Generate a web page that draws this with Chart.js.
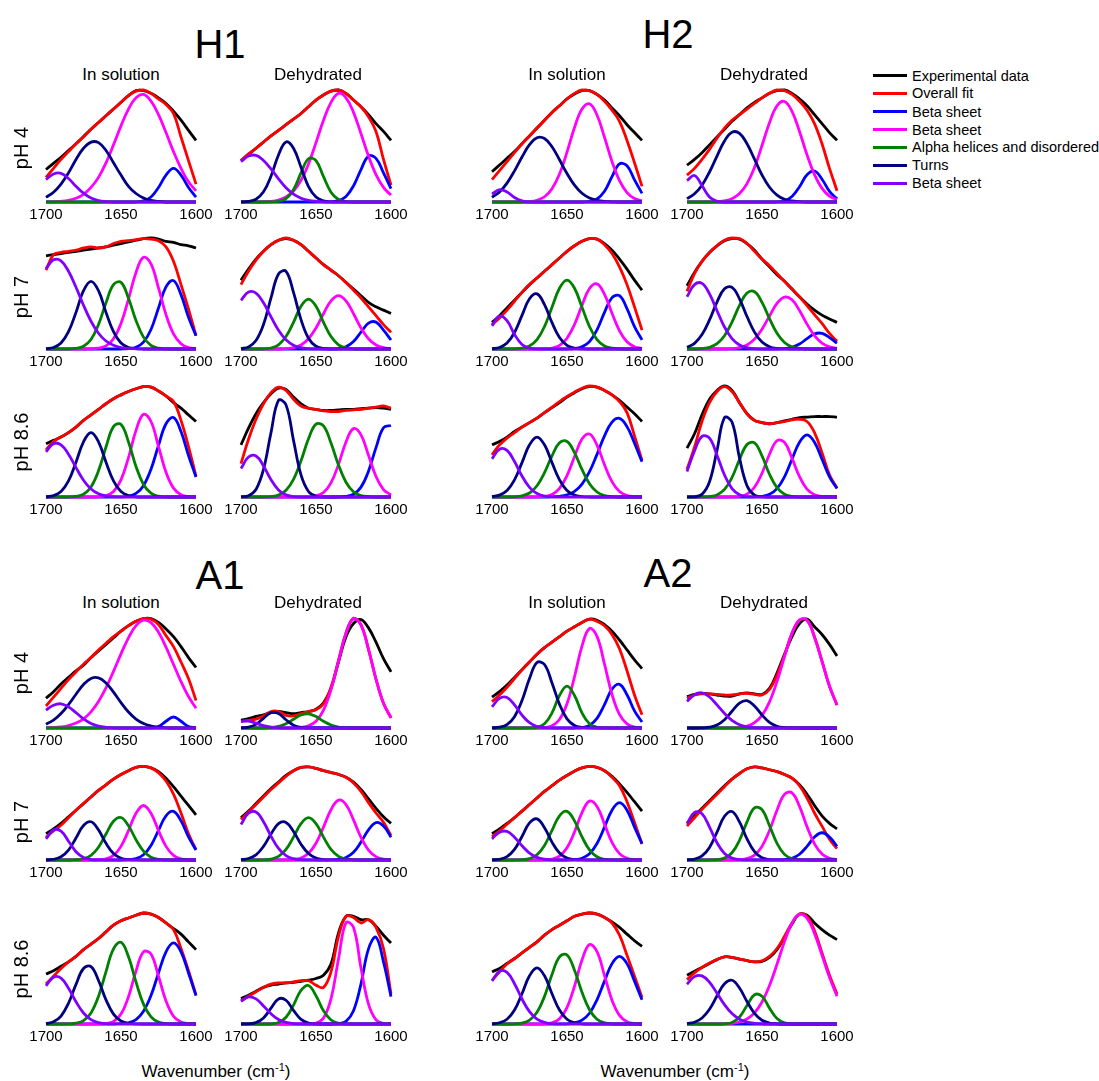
<!DOCTYPE html>
<html><head><meta charset="utf-8">
<script src="https://cdn.jsdelivr.net/npm/chart.js@4.4.1/dist/chart.umd.min.js"></script>
<style>
html,body{margin:0;padding:0;background:#fff;}
#root{position:relative;width:1099px;height:1081px;overflow:hidden;font-family:"Liberation Sans",Arial,sans-serif;color:#000;}
.lbl{position:absolute;white-space:nowrap;transform:translate(-50%,-50%);line-height:1;}
.big{font-size:40px;}
.hdr{font-size:17px;}
.ph{font-size:20px;transform:translate(-50%,-50%) rotate(-90deg);}
.wn{font-size:17px;}
.wn sup{font-size:11px;line-height:0;vertical-align:6px;}
canvas{position:absolute;}
.leg{position:absolute;left:873px;height:18px;display:flex;align-items:center;font-size:14.5px;white-space:nowrap;}
.leg i{display:inline-block;width:34px;height:3px;margin-right:5px;}
</style></head>
<body><div id="root"></div>
<script>
// ---------- data ----------
const wavenumbers = [1700,1695,1690,1685,1680,1675,1670,1665,1660,1655,1650,1645,1640,1635,1630,1625,1620,1615,1610,1605,1600];
const tickValues = [1700,1650,1600];
const seriesNames = ['Experimental data','Overall fit','Beta sheet','Beta sheet','Alpha helices and disordered','Turns','Beta sheet'];
const seriesColors = ['#000000','#ff0000','#0000ff','#ff00ff','#008000','#000080','#8000ff'];
const none = [0,0,0,0,0,0,0,0,0,0,0,0,0,0,0,0,0,0,0,0,0];
// each panel: [experimental, overall fit, beta(blue), beta(magenta), alpha/disordered, turns, beta(violet)]
const H1_sol_pH4 = [
 [29,34.5,40,46,52,58.5,65,71,77,83,89,95,99.5,99.5,97,93,88,81,73,64,55],
 [22,30,38,45,52,58,65,71,77,83,89,95,99,100,97,92,87,79,58,37,16],
 [0,0,0,0,0,0,0,0,0,0,0,0,0.2,1,4.4,13,24,30,24,13,4.4],
 [0,0.2,0.6,1.5,3.4,6.9,13,22,35,51,68,83,93,96,90,78,62,45,30,18,10],
 none,
 [4.2,8.7,16,26,38,48,53.5,53,46,35,24,14,7.6,3.6,1.5,0.5,0,0,0,0,0],
 [20,25,25.6,21,14,7.9,3.5,1.3,0.4,0,0,0,0,0,0,0,0,0,0,0,0]];
const H1_deh_pH4 = [
 [37,42.5,48,53.5,59,64,69,74,79,85,91,95.5,99,100,97,91,85,78,70,63,55],
 [37,43,48,53.5,59,64,69,74,79,85,91,95.5,99,100,97,91,85,76,63,38,15],
 [0,0,0,0,0,0,0,0,0,0,0,0,0.2,1.2,4.9,14.4,29,41,39,26,12],
 [0,0,0,0.2,0.6,1.8,4.4,9.8,19.4,34,53,73,89,97,93,80,61,41,24.5,13,6.2],
 [0,0,0,0,0.1,0.5,3,11,26,38.6,37,22.6,8.8,2.2,0.4,0,0,0,0,0,0],
 [0.1,0.5,2.5,9.1,23,42,53.6,48,31,13.8,4.4,1,0.2,0,0,0,0,0,0,0,0],
 [36,41,41.6,37,29.5,20.7,12.8,7,3.4,1.5,0.6,0.2,0,0,0,0,0,0,0,0,0]];
const H1_sol_pH7 = [
 [84,85,86,87,88,89,90,91,92,93.5,95,96.5,98,99.5,100,99,97,96,94,93,91],
 [71,85,87,88,89,91,92,91,92,95,97,97.6,98.5,99.4,99,97.6,92,79,58,36,12],
 [0,0,0,0,0,0,0,0,0,0,0,0.3,1.5,6.2,17.6,37,56,61.6,49,28.5,12],
 [0,0,0,0,0,0,0.1,0.7,2.8,9.2,23,45,69,82.6,76.6,55,31,13.6,4.7,1.2,0.3],
 [0,0,0,0,0.5,2.5,8.6,22,41.6,58,60,45.7,25.7,10.7,3.3,0.7,0.1,0,0,0,0],
 [0.3,1.4,5.4,15.6,33,52.5,61,52.5,33,15.6,5.4,1.4,0.3,0,0,0,0,0,0,0,0],
 [72.6,80.3,79.4,70,55.6,39.4,25,14.2,7.2,3.3,1.3,0.5,0.2,0,0,0,0,0,0,0,0]];
const H1_deh_pH7 = [
 [62,72,81,88,94,98,99.5,98,94,88,82,76,71,66,60,54,48,42,38,35,32],
 [58,70,80,88,94,98,100,98,94,88,82,76,71,66,60,53,46,38,30,22,15],
 [0,0,0,0,0,0,0,0,0,0,0,0,0,0.4,2,6.7,15.2,23.3,24.2,17,8.1],
 [0,0,0,0,0,0,0.3,1.2,3.6,9.2,19,31.8,43.3,48,43.3,31.8,19,9.2,3.6,1.2,0.3],
 [0,0,0,0,0.9,3.8,11.2,24,38.6,45,38.6,24,11.2,3.8,0.9,0.2,0,0,0,0,0],
 [0.3,1.8,7.6,22,46,67.6,70,51,26.5,9.7,2.5,0.5,0,0,0,0,0,0,0,0,0],
 [43.9,51.3,50.4,41.6,28.9,16.9,8.3,3.4,1.2,0.3,0.1,0,0,0,0,0,0,0,0,0,0]];
const H1_sol_pH86 = [
 [48,51,54,58,63,69,74,79,84,88.5,92,95,97.5,99.5,99,95.5,91,85,80,74,68],
 [42.5,50,54,58,63,69,74,79,84,88.5,92,95,97.5,99.5,99,95.5,91,86,69,45.5,18.6],
 [0,0,0,0,0,0,0,0,0,0,0.1,0.8,3.2,10.2,25,46.5,66,71.6,59,37.4,18],
 [0,0,0,0,0,0,0,0.2,1.2,4.9,15.4,35.5,60,74.5,68,45.5,22.3,8,2.1,0.4,0.1],
 [0,0,0,0,0.5,2.5,9,23.6,45,63.4,65.4,49.6,27.5,11.3,3.4,0.7,0.1,0,0,0,0],
 [0.2,1.2,4.9,14.5,31.3,49.7,58,49.7,31.3,14.5,4.9,1.2,0.2,0,0,0,0,0,0,0,0],
 [40.7,48.1,47,38.5,26.5,15.1,7.2,2.9,1,0.3,0,0,0,0,0,0,0,0,0,0,0]];
const H1_deh_pH86 = [
 [47,62,75,85,93,98,97,90,84,80,79,78,78,78.5,79,79,79.5,80,80.5,80,79],
 [30,52,70,84,94,99,96,88,82,80,79,77.5,77,77,78,78.5,79,80,81,82,80],
 [0,0,0,0,0,0,0,0,0,0,0,0,0,0.1,0.5,2.5,8.9,23.3,44.5,62.4,64.4],
 [0,0,0,0,0,0,0,0,0,0.2,1,4.1,12.8,29.3,49.6,61.6,56,37.6,18.5,6.7,1.8],
 [0,0,0,0,0.4,1.7,6,15.8,32.6,52.4,65.7,64,48.6,28.8,13.3,4.7,1.3,0.3,0,0,0],
 [0.1,1.2,6.8,24.8,58,87,83,51,19.9,5,0.8,0.1,0,0,0,0,0,0,0,0,0],
 [25.6,36,37,28,15.6,6.4,1.9,0.4,0,0,0,0,0,0,0,0,0,0,0,0,0]];
const H2_sol_pH4 = [
 [27,33,39,45,52,59,66,73,80,86,92,96.5,99.5,99.5,96,91,84,77,69,62,55],
 [20,28,36,44,52,59,66,73,80,86,92,97,100,99.5,96,90,82,72,55,35,14],
 [0,0,0,0,0,0,0,0,0,0,0,0,0,0.5,2.7,9.6,22.6,34,32.3,19.8,7.7],
 [0,0,0,0,0.1,0.4,1.6,4.7,11.9,25,44.5,66.5,83,87.7,77.7,57.8,36.2,19,8.4,3.1,1],
 none,
 [4.2,9,16.9,27.8,40.2,51.2,57.4,56.7,49.3,37.7,25.4,15,7.8,3.6,1.5,0.5,0.2,0,0,0,0],
 [7,11,9,4,1,0.1,0,0,0,0,0,0,0,0,0,0,0,0,0,0,0]];
const H2_deh_pH4 = [
 [33,38,44,51,58,65,72,78,84,89,93,97,99.5,100,97,92,86,78,70,62,55],
 [24,30,38,47,57,66,73,78,83,88,93,97,100,99.5,96,90,82,70,52,30,10],
 [0,0,0,0,0,0,0,0,0,0,0,0,0.2,1.1,4.9,13.6,24.3,27.7,20.3,9.5,2.8],
 [0,0,0,0,0.3,1,2.9,7.5,16.4,30.8,50.4,70.8,85.9,89.7,80.9,63,42.2,24.5,12.2,5.3,2],
 none,
 [3,7.3,15,26.8,41,54.5,62.3,61.3,52,38.2,24.1,13.2,6.2,2.5,0.9,0.3,0,0,0,0,0],
 [19.2,23.7,14.6,4.5,0.7,0,0,0,0,0,0,0,0,0,0,0,0,0,0,0,0]];
const H2_sol_pH7 = [
 [24,30,37,44,51,58,64,70,76,82,88,93,97,99.5,99,95,89,81,72,62,53],
 [22,28,35,43,51,58,64,70,76,82,88,93,97,99.5,99,94,86,74,58,38,17],
 [0,0,0,0,0,0,0,0,0,0,0,0.4,1.9,6.6,17.3,33,46.3,48,36.3,20.1,8.2],
 [0,0,0,0,0,0,0,0.2,0.9,3.3,9.7,22.1,39.3,54.5,58.7,49.3,32.2,16.4,6.5,2,0.5],
 [0,0,0,0.1,0.7,2.7,8.4,20.2,37.6,54.7,62,54.7,37.6,20.2,8.4,2.7,0.7,0.1,0,0,0],
 [0.3,1.4,5.4,14.9,30.3,45.3,49.7,40,23.7,10.3,3.3,0.8,0.1,0,0,0,0,0,0,0,0],
 [20.8,29.7,25.5,13.1,4.1,0.8,0.1,0,0,0,0,0,0,0,0,0,0,0,0,0,0]];
const H2_deh_pH7 = [
 [57,69,79,87,93,97.5,99.5,99,95,89,81,74,67,61,54,47,40.5,35,30.5,27,24],
 [52,68,79,87,93,98,100,99.5,95,88,81,75,68,61,54,47,39,31,23,14,7],
 [0,0,0,0,0,0,0,0,0,0,0,0,0,0.4,1.5,4.5,9.3,13.6,14.1,10.3,5.3],
 [0,0,0,0,0,0,0.3,1.2,3.6,8.9,17.8,29.7,41,46.8,44.3,34.6,22.4,12,5.3,1.9,0.6],
 [0,0,0.4,1.5,4.8,12,24.3,39.3,50.4,51.6,42,27.3,14.1,5.8,1.9,0.5,0.1,0,0,0,0],
 [1.6,5.1,13,26.2,42.3,54.2,55.5,45.2,29.3,15.2,6.2,2.1,0.5,0.1,0,0,0,0,0,0,0],
 [47,58,59.1,49.7,34.5,19.8,9.4,3.6,1.2,0.3,0,0,0,0,0,0,0,0,0,0,0]];
const H2_sol_pH86 = [
 [47,50,54,59,63,67,71,76,80.5,85,90,94,97.5,99.5,99,96,92,87,81,75,68],
 [38,47,53,58,63,67,71,76,81,86,90.5,94.5,98,100,99,96,92,86,76,55,33],
 [0,0,0,0,0,0,0,0,0.2,0.6,1.9,5,11.6,22.8,38.4,55,67.5,70.8,63.4,48.5,31.7],
 [0,0,0,0,0,0,0.1,0.5,2.3,7.7,19.2,36.3,52.2,56.7,46.7,29.1,13.8,4.9,1.3,0.3,0],
 [0,0,0,0.2,1,3.6,10.1,21.9,37,48.8,50,40,24.8,12,4.5,1.3,0.3,0,0,0,0],
 [0.4,1.7,5.9,15.5,31,47,54,47,31,15.5,5.9,1.7,0.4,0,0,0,0,0,0,0,0],
 [34.4,43.1,42,32,18.9,8.7,3.1,0.9,0.2,0,0,0,0,0,0,0,0,0,0,0,0]];
const H2_deh_pH86 = [
 [44,57,74,88,96,100,96,85,75,69,67,66,67,68.5,70,71.5,72,72.5,72.5,72.5,72],
 [25,45,68,85,95,99.5,95,85,75,69,67,66,67,68,69.5,70,68,58,40,20,8],
 [0,0,0,0,0,0,0,0,0,0,0.6,2.5,7.6,18.2,34,49.4,56,49.4,34,18.2,7.6],
 [0,0,0,0,0,0,0.1,0.6,2.6,8.8,21.4,38.5,50.7,49.2,35,18.3,7,2,0.4,0.1,0],
 [0,0,0.1,0.4,1.9,6.8,17.6,33.7,47.3,48.8,37,20.5,8.4,2.5,0.6,0.1,0,0,0,0,0],
 [0,0.2,2.4,13.7,42,71.5,67.5,35.2,10.2,1.6,0.1,0,0,0,0,0,0,0,0,0,0],
 [23,41.5,54.6,53,37.7,19.8,7.6,2.1,0.4,0.1,0,0,0,0,0,0,0,0,0,0,0]];
const A1_sol_pH4 = [
 [27,33,40,46,52,57,64,70,76,82,88,93,97,99.5,99.5,96,90,83,74,64,55],
 [20,28,36,44,51,58,64,71,77,83,88,93,97,99.5,99,94,84,74,60,45,25],
 [0,0,0,0,0,0,0,0,0,0,0,0,0,0,0.1,1.4,6.1,10,6.1,1.4,0.1],
 [0.2,0.4,1,2.2,4.5,8.4,14.7,24,36.5,51.5,67.4,82,93,98,95.8,87,73.6,57.8,42.2,28.6,18],
 none,
 [3.5,7.1,13.1,21.3,30.7,39.5,45,45.6,41,32.6,23.1,14.5,8.1,4,1.8,0.7,0.2,0,0,0,0],
 [16.2,20.7,22,19.2,13.9,8.3,4.1,1.7,0.6,0.2,0,0,0,0,0,0,0,0,0,0,0]];
const A1_deh_pH4 = [
 [7,8.5,10.5,12,14,15,14,13,14,15,17,23,36,60,83,95,98.5,91,78,63,51],
 [6,7,8,11,15,15,11.5,11,13,15,16.5,22,37,61.5,86.5,99.8,94,71.5,44.5,22.5,9.3],
 none,
 [0,0,0,0,0,0,0,0.1,0.5,1.9,6.1,16.2,34.7,60.7,86.2,99.6,93.6,71.5,44.5,22.5,9.3],
 [0,0,0,0,0.4,1.4,3.9,7.9,11.8,12.9,10.4,6.1,2.7,0.9,0.2,0,0,0,0,0,0],
 [0.1,0.8,3.3,8.8,13.9,13.2,7.5,2.6,0.5,0.1,0,0,0,0,0,0,0,0,0,0,0],
 [6,6.3,4.4,2.1,0.7,0.2,0,0,0,0,0,0,0,0,0,0,0,0,0,0,0]];
const A1_sol_pH7 = [
 [28,33,39,46,53,60,67,74,80,86,91,95,98.5,99.5,98,94,87,78,68,58,48],
 [24,31,37,45,53,60,67,74,80,86,91,95,98.5,99.5,98,93,84,70,50,28,11],
 [0,0,0,0,0,0,0,0,0,0,0,0.3,1.5,5.6,15.5,31.5,47,51.7,41.6,24.6,10.7],
 [0,0,0,0,0,0,0,0.2,1.2,4.9,14.5,31.3,49.7,58,49.7,31.3,14.5,4.9,1.2,0.2,0],
 [0,0,0,0,0.3,1.3,4.9,13.6,27.6,41.2,45.2,36.4,21.6,9.4,3,0.7,0.1,0,0,0,0],
 [0.1,0.8,3.4,10.5,23.4,36.7,40.7,32,17.7,6.9,1.9,0.4,0.1,0,0,0,0,0,0,0,0],
 [22.5,32,30.8,20,8.8,2.6,0.5,0.1,0,0,0,0,0,0,0,0,0,0,0,0,0]];
const A1_deh_pH7 = [
 [45,52,60,68,76,83,90,95,98.5,99,97.5,95,93,91,88,83,75,65,55,46,39],
 [43,51,59,67,75,82,89,95,98.5,99,97.5,95,93,91,88,82,73,61,50,40,26],
 [0,0,0,0,0,0,0,0,0,0,0,0,0.1,0.6,2.6,8.2,19,32,39.8,36.2,24.3],
 [0,0,0,0,0,0,0.1,0.5,2.2,7.1,17.8,35,53.5,63.7,59,42.7,24,10.6,3.6,1,0.2],
 [0,0,0,0.2,0.9,3.8,11.2,24.3,38.6,45,38.6,24.3,11.2,3.8,0.9,0.2,0,0,0,0,0],
 [0.3,1.6,5.5,14.5,27.6,38.8,40,30.4,16.8,6.9,2.1,0.5,0.1,0,0,0,0,0,0,0,0],
 [37.8,49.7,51,40.7,25.3,12.3,4.6,1.4,0.3,0.1,0,0,0,0,0,0,0,0,0,0,0]];
const A1_sol_pH86 = [
 [45,48,52,56,61,67,72,77,83,89,93,95.5,98,100,99,96,91,86,81,74,67],
 [36,43,50,56,61,67,72,77,83,89,93,95.5,98,100,99,96,91,85,68,48,26],
 [0,0,0,0,0,0,0,0,0,0,0.3,1.1,4,11.5,25.6,46,65,73,65,46,25.6],
 [0,0,0,0,0,0,0,0.1,0.4,2.3,9,24.6,47.7,65,63,43,20.8,7,1.7,0.3,0],
 [0,0,0,0.1,0.7,3,10,24.9,47.2,67.7,73.6,60.6,37.8,17.9,6.4,1.7,0.4,0,0,0,0],
 [0.4,2,7.2,18.7,35.7,50,51.7,39.2,21.7,8.9,2.7,0.6,0.1,0,0,0,0,0,0,0,0],
 [34.4,42.2,41.3,32.2,20,9.9,3.9,1.2,0.3,0.1,0,0,0,0,0,0,0,0,0,0,0]];
const A1_deh_pH86 = [
 [23,26,29.5,33,35,36,37,37.5,38.5,39.5,41,44,54,82,97,97,94,94,88,80,73],
 [21,25,29,33,36,37,37,38,39,39,35,33,47,79,97,96,91,94,87,68,27],
 [0,0,0,0,0,0,0,0,0,0,0,0,0,0.3,2.4,12,36.2,67.7,78.2,56,24.7],
 [0,0,0,0,0,0,0,0,0,0.1,0.8,5.4,22.7,58.5,91.3,87,50.4,17.9,3.8,0.5,0],
 [0,0,0,0,0.2,1.4,6.1,17,30.3,34.7,25.4,11.9,3.6,0.7,0.1,0,0,0,0,0,0],
 [0,0.2,1.2,5.4,14.3,22.6,21.4,12.2,4.2,0.9,0.1,0,0,0,0,0,0,0,0,0,0],
 [20.5,24.4,22.6,16.3,9.2,4,1.4,0.4,0.1,0,0,0,0,0,0,0,0,0,0,0,0]];
const A2_sol_pH4 = [
 [28,33,39,46,53,60,67,73,78,83,88,92,96,99,98,94,88,80,71,62,54],
 [24,30,37,45,53,60,67,73,78,83,88,92,96,99,97,93,85,72,52,30,12],
 [0,0,0,0,0,0,0,0,0,0,0,0,0.4,2.4,8.7,21.2,35.3,39.7,30.2,15.6,5.4],
 [0,0,0,0,0,0,0.1,0.4,2.1,7.8,22,46.5,74.5,90.5,83.3,58,30.6,12.3,3.7,0.8,0.2],
 [0,0,0,0,0,0.1,0.6,3.8,13.7,29.5,38,29.5,13.7,3.8,0.6,0.1,0,0,0,0,0],
 [0.1,0.7,3.1,10.3,25,45,59.5,57.7,41,21.5,8.3,2.3,0.5,0.1,0,0,0,0,0,0,0],
 [19.2,27,27.8,21.1,11.7,4.8,1.4,0.3,0,0,0,0,0,0,0,0,0,0,0,0,0]];
const A2_deh_pH4 = [
 [28.5,30.5,31.5,31,30,29,29,31,32,31,30.5,36,50,67,83,95,99,92,85,76,65.5],
 [27,30,31,31,30.5,30,30,31,31.5,30.5,30,35,48,66,86,98,98,83,61,38,21],
 none,
 [0,0,0,0,0,0,0.1,0.5,1.7,4.8,11.5,23.8,42.3,65,86,98.3,98,82.3,60.4,38,20.8],
 none,
 [0,0,0.1,0.7,2.7,7.5,15.2,22.6,24.8,20,11.8,5.1,1.6,0.4,0.1,0,0,0,0,0,0],
 [24.2,30.3,32,28.2,21,13.2,6.9,3,1.1,0.4,0.1,0,0,0,0,0,0,0,0,0,0]];
const A2_sol_pH7 = [
 [28,33,39,45,52,59,66,73,79,85,90,94.5,98,99.5,98.5,95,89,81,72,62,52],
 [25,31,38,45,52,59,66,73,79,85,90,94.5,98,99.5,98.5,95,88,79,62,40,17],
 [0,0,0,0,0,0,0,0,0,0,0,0.4,1.9,6.6,17.5,35,53,61,53,35,17.5],
 [0,0,0,0,0,0,0,0.2,1,4.1,13,29.8,50.5,62.6,57,38.2,18.8,6.8,1.8,0.4,0.1],
 [0,0,0,0,0.3,1.5,5.6,15.5,31.5,47,51.7,41.6,24.6,10.7,3.4,0.8,0.1,0,0,0,0],
 [0.1,0.8,3.6,11.3,25,39.4,43.7,34.3,19,7.4,2.1,0.4,0.1,0,0,0,0,0,0,0,0],
 [22.5,29.6,30.4,24.3,15.1,7.3,2.8,0.8,0.2,0,0,0,0,0,0,0,0,0,0,0,0]];
const A2_deh_pH7 = [
 [39,47,55,63,71,79,86,92,97,99,98,96,94,91,87,80,70,58,47,39,33],
 [36,45,54,62,70,78,86,92,97,99,98,96,94,91,87,79,66,50,36,22,12],
 [0,0,0,0,0,0,0,0,0,0,0,0,0.1,0.4,1.8,6.1,14.5,24.4,29,24.4,14.5],
 [0,0,0,0,0,0,0.1,0.3,1.4,5.2,14.5,31.4,53,69.8,71.5,57,35.5,17.2,6.5,1.9,0.4],
 [0,0,0,0,0.4,2,7.7,21,40.6,55.4,53.5,36.5,17.7,6,1.4,0.3,0,0,0,0,0],
 [0.1,1,4.3,13.4,29.6,46.5,51.6,40.5,22.4,8.8,2.4,0.5,0.1,0,0,0,0,0,0,0,0],
 [38.5,50.7,49.2,35,18.4,7,2,0.4,0.1,0,0,0,0,0,0,0,0,0,0,0,0]];
const A2_sol_pH86 = [
 [47,50,54.5,59,64,69,74,80,85,89,93,97,99,100,99,96,92,87,81,75,70],
 [39,47,54,59,64,69,74,80,85,89,93,97,99,100,99,96,91,80,62,43,24],
 [0,0,0,0,0,0,0,0,0,0,0.2,1,3.5,9.7,21.8,38.6,54.4,61,54.4,38.6,21.8],
 [0,0,0,0,0,0,0,0.2,1.1,4.7,14.8,34,57.6,71.6,65.2,43.6,21.5,7.8,2.1,0.4,0.1],
 [0,0,0,0.2,0.8,3.4,10.5,24.9,44.6,60.5,62.2,48.4,28.6,12.8,4.3,1.1,0.2,0,0,0,0],
 [0.2,1.1,4.3,12.6,27.3,43.4,50.6,43.4,27.3,12.6,4.3,1.1,0.2,0,0,0,0,0,0,0,0],
 [38.8,47.6,46.5,36.3,22.5,11.1,4.4,1.4,0.3,0.1,0,0,0,0,0,0,0,0,0,0,0]];
const A2_deh_pH86 = [
 [44,47.5,51,54.5,58,60.5,60,58.5,57,56,56.5,60,67,78,90,99,98,91,85,80,76],
 [40,46,51,55,58,60.5,60,58.5,57,56,57,61,68,79,91,99,97,84,64,44,27],
 none,
 [0,0,0,0,0,0.2,0.6,1.8,4.5,10,19.8,34.6,53.8,74.2,91,98.8,95.3,81.6,62,42,25],
 [0,0,0,0,0,0.2,1.4,6.3,16.6,26.3,25,14.3,4.9,1,0.1,0,0,0,0,0,0],
 [0.4,1.6,5.4,13.3,25.3,36.2,39.4,32.4,20.2,9.6,3.4,0.9,0.2,0,0,0,0,0,0,0,0],
 [35.9,42.7,43.4,37.6,27.8,17.5,9.4,4.3,1.7,0.6,0.2,0,0,0,0,0,0,0,0,0,0]];

// ---------- layout ----------
const root = document.getElementById('root');
const COLX = [46, 240.7, 491.7, 686.7];        // pixel of 1700 in each column
const ROWS = [                                   // plot top / baseline
  {top:89.5, base:201.7}, {top:237.5, base:348.3}, {top:386, base:497.3},
  {top:617.7, base:728}, {top:766, base:860}, {top:913, base:1023.5}];
const panels = [
  [H1_sol_pH4,0,0],[H1_deh_pH4,1,0],[H1_sol_pH7,0,1],[H1_deh_pH7,1,1],[H1_sol_pH86,0,2],[H1_deh_pH86,1,2],
  [H2_sol_pH4,2,0],[H2_deh_pH4,3,0],[H2_sol_pH7,2,1],[H2_deh_pH7,3,1],[H2_sol_pH86,2,2],[H2_deh_pH86,3,2],
  [A1_sol_pH4,0,3],[A1_deh_pH4,1,3],[A1_sol_pH7,0,4],[A1_deh_pH7,1,4],[A1_sol_pH86,0,5],[A1_deh_pH86,1,5],
  [A2_sol_pH4,2,3],[A2_deh_pH4,3,3],[A2_sol_pH7,2,4],[A2_deh_pH7,3,4],[A2_sol_pH86,2,5],[A2_deh_pH86,3,5]];

Chart.defaults.font.family = '"Liberation Sans", Arial, sans-serif';
Chart.defaults.color = '#000';

function addText(html, cls, x, y) {
  const d = document.createElement('div');
  d.className = 'lbl ' + cls; d.innerHTML = html;
  d.style.left = x + 'px'; d.style.top = y + 'px';
  root.appendChild(d);
}

function makePanel(series, col, row) {
  const fs = 15, padL = 24, padR = 24, padT = 6, tickPad = 3.5, axisH = fs * 1.2 + 2 * tickPad;
  const r = ROWS[row];
  const h = r.base - r.top;
  const W = 150 + padL + padR;
  const H = Math.round(padT + h + axisH);
  const cv = document.createElement('canvas');
  cv.width = W; cv.height = H;
  cv.style.width = W + 'px'; cv.style.height = H + 'px';
  cv.style.left = Math.round(COLX[col] - padL) + 'px';
  cv.style.top = Math.round(r.top - padT) + 'px';
  root.appendChild(cv);
  new Chart(cv, {
    type: 'line',
    data: {
      datasets: series.map((arr, i) => ({
        label: seriesNames[i],
        data: wavenumbers.map((w, j) => ({x: w, y: arr[j]})),
        borderColor: seriesColors[i],
        borderWidth: 2.8,
        pointRadius: 0,
        tension: 0.4,
        fill: false,
        clip: false,
        order: 7 - i
      }))
    },
    options: {
      responsive: false, animation: false, devicePixelRatio: 1, events: [],
      layout: {padding: {left: padL, right: padR, top: padT, bottom: 0}},
      plugins: {legend: {display: false}, tooltip: {enabled: false}},
      scales: {
        x: {
          type: 'linear', reverse: true, min: 1600, max: 1700,
          grid: {display: false, drawTicks: false}, border: {display: false},
          afterBuildTicks: s => { s.ticks = tickValues.map(v => ({value: v})); },
          ticks: {autoSkip: false, maxRotation: 0, padding: tickPad, color: '#000',
                  font: {size: fs}, callback: v => String(v)}
        },
        y: {display: false, min: 0, max: 100}
      }
    }
  });
}
panels.forEach(p => makePanel(p[0], p[1], p[2]));

// titles
addText('H1', 'big', 220, 44);
addText('H2', 'big', 668, 34);
addText('A1', 'big', 220, 575);
addText('A2', 'big', 668, 573);
[[121,73.5],[318,73.5],[567,73.5],[764,73.5]].forEach((p, i) =>
  addText(i % 2 ? 'Dehydrated' : 'In solution', 'hdr', p[0], p[1]));
[[121,601.5],[318,601.5],[567,601.5],[764,601.5]].forEach((p, i) =>
  addText(i % 2 ? 'Dehydrated' : 'In solution', 'hdr', p[0], p[1]));
const phLabels = ['pH 4','pH 7','pH 8.6'];
[148,297,442].forEach((y, i) => addText(phLabels[i], 'ph', 21, y));
[673,822,969].forEach((y, i) => addText(phLabels[i], 'ph', 21, y));
addText('Wavenumber (cm<sup>-1</sup>)', 'wn', 216, 1071);
addText('Wavenumber (cm<sup>-1</sup>)', 'wn', 675, 1071);

// legend
const legY = [75.7, 93.3, 111.7, 129.7, 147.3, 165.3, 183.3];
seriesNames.forEach((name, i) => {
  const d = document.createElement('div');
  d.className = 'leg';
  d.style.top = (legY[i] - 9) + 'px';
  d.innerHTML = '<i style="background:' + seriesColors[i] + '"></i><span>' + name + '</span>';
  root.appendChild(d);
});
</script>
</body></html>
